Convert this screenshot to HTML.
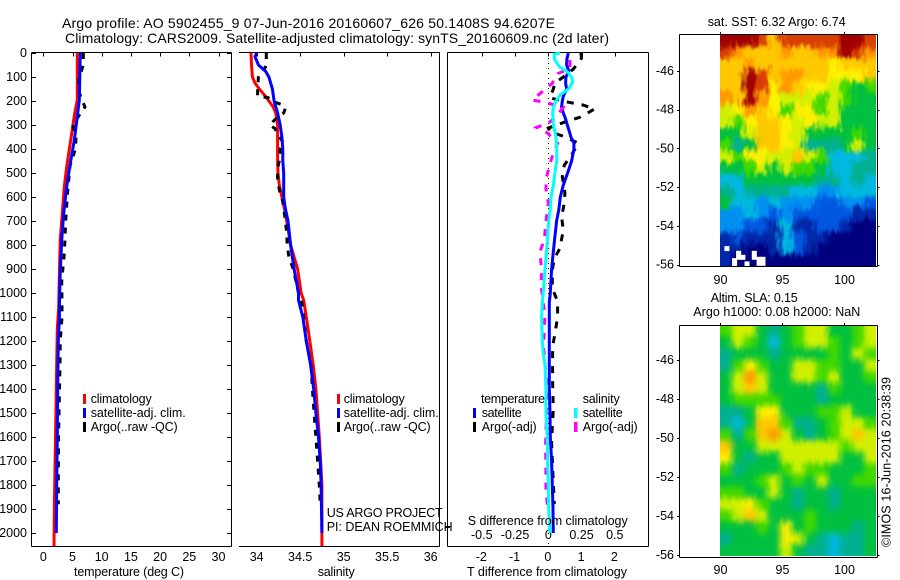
<!DOCTYPE html>
<html>
<head>
<meta charset="utf-8">
<title>Argo profile 5902455_9</title>
<style>
html,body{margin:0;padding:0;background:#fff;}
svg{display:block;}
text{font-family:"Liberation Sans",sans-serif;font-size:12.5px;fill:#000;}
.title{font-size:14px;}
</style>
</head>
<body>
<svg id="chart" xmlns="http://www.w3.org/2000/svg" width="900" height="580" viewBox="0 0 900 580">
<defs>
<filter id="softA" x="-8%" y="-8%" width="116%" height="116%" color-interpolation-filters="sRGB">
<feGaussianBlur in="SourceGraphic" stdDeviation="2.2" result="b"/>
<feTurbulence type="fractalNoise" baseFrequency="0.2 0.07" numOctaves="2" seed="3" result="n"/>
<feDisplacementMap in="b" in2="n" scale="14" xChannelSelector="R" yChannelSelector="G"/>
</filter>
<filter id="softB" x="-8%" y="-8%" width="116%" height="116%" color-interpolation-filters="sRGB">
<feGaussianBlur in="SourceGraphic" stdDeviation="3.2" result="b"/>
<feTurbulence type="fractalNoise" baseFrequency="0.25 0.1" numOctaves="1" seed="5" result="n"/>
<feDisplacementMap in="b" in2="n" scale="5" xChannelSelector="R" yChannelSelector="G"/>
</filter>
<clipPath id="clipA"><rect x="720" y="35" width="156" height="231"/></clipPath>
<clipPath id="clipB"><rect x="720" y="325" width="156" height="231"/></clipPath>
</defs>

<text class="title" x="62" y="28" textLength="493" lengthAdjust="spacing">Argo profile: AO 5902455_9 07-Jun-2016 20160607_626 50.1408S 94.6207E</text>
<text class="title" x="65" y="43" textLength="544" lengthAdjust="spacing">Climatology: CARS2009. Satellite-adjusted climatology: synTS_20160609.nc (2d later)</text>

<g id="axes-layer"></g>
<g id="series-layer"></g>
<g id="map-layer"></g>

<g>
<rect x="83" y="394" width="3" height="10" fill="#f00"/>
<text x="90.7" y="403" textLength="61" lengthAdjust="spacing">climatology</text>
<rect x="83" y="408" width="3" height="10" fill="#00f"/>
<text x="90.7" y="417" textLength="95" lengthAdjust="spacing">satellite-adj. clim.</text>
<rect x="83" y="422" width="3" height="10" fill="#000"/>
<text x="90.7" y="431" textLength="87" lengthAdjust="spacing">Argo(..raw -QC)</text>
</g>

<g>
<rect x="337" y="394" width="3" height="10" fill="#f00"/>
<text x="343.7" y="403" textLength="61" lengthAdjust="spacing">climatology</text>
<rect x="337" y="408" width="3" height="10" fill="#00f"/>
<text x="343.7" y="417" textLength="95" lengthAdjust="spacing">satellite-adj. clim.</text>
<rect x="337" y="422" width="3" height="10" fill="#000"/>
<text x="343.7" y="431" textLength="87" lengthAdjust="spacing">Argo(..raw -QC)</text>
</g>

<text x="326.7" y="517" textLength="116" lengthAdjust="spacing">US ARGO PROJECT</text>
<text x="326.7" y="531" textLength="126" lengthAdjust="spacing">PI: DEAN ROEMMICH</text>

<g>
<text x="481" y="403" textLength="64" lengthAdjust="spacing">temperature</text>
<rect x="473" y="408" width="3" height="10" fill="#00f"/>
<text x="481.7" y="417" textLength="40" lengthAdjust="spacing">satellite</text>
<rect x="473" y="422" width="3" height="10" fill="#000"/>
<text x="481.7" y="431" textLength="55" lengthAdjust="spacing">Argo(-adj)</text>
<text x="582.7" y="403" textLength="37" lengthAdjust="spacing">salinity</text>
<rect x="574" y="408" width="3.5" height="10" fill="#0ff"/>
<text x="582.7" y="417" textLength="40" lengthAdjust="spacing">satellite</text>
<rect x="574" y="422" width="3.5" height="10" fill="#f0f"/>
<text x="582.7" y="431" textLength="55" lengthAdjust="spacing">Argo(-adj)</text>
</g>

<text x="74" y="576" textLength="110" lengthAdjust="spacing">temperature (deg C)</text>
<text x="317.7" y="576" textLength="37" lengthAdjust="spacing">salinity</text>
<text x="467" y="576" textLength="160" lengthAdjust="spacing">T difference from climatology</text>
<text x="467.7" y="525" textLength="160" lengthAdjust="spacing">S difference from climatology</text>

<text x="707.7" y="26" textLength="138" lengthAdjust="spacing">sat. SST: 6.32 Argo: 6.74</text>
<text x="710.7" y="302" textLength="87" lengthAdjust="spacing">Altim. SLA: 0.15</text>
<text x="693.3" y="316" textLength="167" lengthAdjust="spacing">Argo h1000: 0.08 h2000: NaN</text>
<text transform="translate(890.5,547) rotate(-90)" x="0" y="0" textLength="170" lengthAdjust="spacing">©IMOS 16-Jun-2016 20:38:39</text>
</svg>

<script>
// ---------- profile data ----------
const depthTicks = [0,100,200,300,400,500,600,700,800,900,1000,1100,1200,1300,1400,1500,1600,1700,1800,1900,2000];
const tempTicks = [0,5,10,15,20,25,30];
const salTicks = [34,34.5,35,35.5,36];
const salTickLabels = ['34','34.5','35','35.5','36'];
const diffTTicks = [-2,-1,0,1,2];
const diffSTicks = [-0.5,-0.25,0,0.25,0.5];
const diffSTickLabels = ['-0.5','-0.25','0','0.25','0.5'];

const tempClimDepth = [0,196,251,363,474,557,668,779,918,1058,1150,1400,1650,1875,2054];
const tempClim = [5.82,5.82,5.37,4.69,4.0,3.6,3.26,2.9,2.75,2.63,2.4,2.23,2.06,1.9,1.83];
const tempSatDepth = [0,196,251,363,474,557,668,779,918,1058,1100,1200,1400,1600,1800,2000];
const tempSat = [6.34,6.17,5.89,5.3,4.52,4.0,3.5,3.15,2.9,2.75,2.75,2.57,2.46,2.4,2.29,2.23];
const tempArgoDepth = [0,50,100,150,200,225,250,300,350,400,470,600,700,800,850,950,1040,1100,1200,1300,1500,1600,1800,1880];
const tempArgo = [6.85,6.85,6.17,5.9,6.7,7.14,6.4,5.03,5.6,5.5,4.57,4.1,3.83,3.66,3.55,3.15,3.2,3.2,2.9,2.86,2.69,2.6,2.57,2.57];

const salClimDepth = [0,50,100,125,150,180,200,225,250,300,350,400,450,500,550,600,650,700,800,900,1000,1030,1100,1200,1300,1400,1500,1600,1700,1800,1900,2054];
const salClim = [33.935,33.94,33.95,33.98,34.03,34.10,34.14,34.19,34.22,34.24,34.24,34.24,34.24,34.245,34.26,34.29,34.32,34.345,34.39,34.47,34.51,34.54,34.57,34.61,34.65,34.68,34.70,34.72,34.735,34.75,34.75,34.75];
const salSatDepth = [0,15,50,75,100,150,200,250,300,350,400,450,500,550,600,650,700,800,900,1000,1030,1100,1200,1300,1400,1500,1600,1700,1800,2000];
const salSat = [34.0,33.98,34.02,34.10,34.14,34.18,34.20,34.24,34.27,34.29,34.30,34.30,34.31,34.31,34.31,34.33,34.36,34.39,34.43,34.48,34.48,34.53,34.57,34.62,34.655,34.68,34.71,34.73,34.74,34.75];
const salArgoDepth = [0,50,60,80,100,150,180,186,200,215,230,250,270,300,315,350,375,400,450,480,530,570,620,700,750,800,850,900,950,1000,1040,1100,1200,1300,1400,1500,1600,1700,1800,1880];
const salArgo = [34.11,34.11,34.10,34.04,34.02,34.01,34.01,34.13,34.17,34.29,34.33,34.31,34.23,34.15,34.21,34.26,34.31,34.27,34.26,34.24,34.24,34.26,34.30,34.33,34.345,34.35,34.37,34.42,34.45,34.48,34.52,34.54,34.57,34.625,34.64,34.66,34.68,34.70,34.72,34.73];

const diffTSatDepth = [0,25,50,75,100,125,150,180,200,225,250,275,300,325,350,375,400,450,500,550,600,650,700,800,900,1000,1040,1100,1200,1400,1500,1600,1700,1800,1900,2000];
const diffTSat = [.6,.56,.55,.62,.53,.52,.55,.45,.42,.40,.45,.52,.57,.63,.68,.77,.77,.70,.58,.45,.36,.32,.25,.17,.10,.06,.03,.03,.03,.03,.05,.06,.10,.12,.14,.15];
const diffSSatDepth = [0,5,25,40,60,75,100,120,135,150,175,200,225,250,300,350,400,450,500,550,600,650,700,800,900,1000,1040,1100,1200,1250,1300,1400,1500,1600,1700,1800,1900,2000];
const diffSSat = [.088,.045,.045,.063,.088,.138,.175,.183,.17,.15,.088,.058,.038,.033,.038,.058,.063,.063,.05,.038,.02,.015,.003,-.01,-.025,-.038,-.045,-.05,-.045,-.038,-.025,-.018,-.018,-.008,-.005,0,.003,.013];
const diffTArgoDepth = [0,22,43,68,100,125,150,187,205,217,233,268,285,313,328,349,376,425,467,515,582,626,682,738,814,856,904,980,1036,1100,1170,1224,1294,1364,1488,1558,1627,1880];
const diffTArgo = [.98,1.0,.88,.75,.45,.2,.15,.05,.6,1.05,1.4,.95,.55,0,.05,.5,.9,.7,.48,.42,.5,.48,.4,.45,.35,.18,.12,.12,.28,.28,.2,.13,.13,.13,.15,.12,.10,.18];
const diffSArgoDepth = [29,64,85,126,154,196,206,226,262,293,310,335,356,376,439,515,564,626,703,779,828,904,967,1043,1086,1224,1377,1488,1627,1752,1822,1891];
const diffSArgo = [.163,.163,.075,.03,-.03,-.12,-.025,.113,.063,0,-.088,0,.025,.07,.025,-.013,-.018,0,-.018,-.03,-.063,-.05,-.055,-.038,-.025,-.035,-.013,-.013,-.02,-.018,-.018,-.005];

// ---------- map data (palette level 0 = coldest/lowest, 13 = warmest/highest) ----------
const sstLevels = [
[13,13,13,12,10,12,12,12,12,12,13,13,12],
[12,11,10,10,10,11,10,10,11,11,13,12,11],
[10,10,11,10,10,10,10,10,10,9,10,10,10],
[10,10,13,12,10,11,11,10,10,9,9,9,10],
[10,10,13,12,9,11,10,9,9,8,7,6,7],
[11,10,13,11,9,8,8,8,7,8,7,6,6],
[8,9,11,10,9,7,9,9,7,8,6,6,6],
[8,7,9,10,10,9,8,9,8,8,6,6,6],
[6,6,8,10,10,9,8,6,6,6,6,7,6],
[7,5,6,10,10,9,8,5,5,5,6,8,6],
[8,7,9,9,8,8,10,8,7,4,4,4,5],
[6,6,7,8,6,8,7,7,6,4,4,5,5],
[4,4,6,6,6,6,6,6,5,5,4,5,4],
[5,4,5,5,5,5,4,4,3,3,4,4,4],
[6,4,4,3,4,3,3,3,2,2,3,3,2],
[3,3,4,3,2,3,2,2,2,2,2,1,1],
[3,3,2,2,1,4,1,1,2,2,1,0,0],
[1,2,1,1,1,4,2,1,1,0,0,0,0],
[1,1,0,0,1,4,2,1,0,0,0,0,0],
[1,0,0,0,0,0,0,0,0,0,0,0,0]
];
const sstMissingLon = [90.56,91.5,91.5,91.85,91.18,91.18,92.18,92.77,92.77,93.15,93.47,93.15,93.47];
const sstMissingLat = [-55.18,-55.42,-55.63,-55.63,-55.8,-56.0,-55.97,-55.42,-55.63,-55.73,-55.73,-55.94,-55.94];
const slaLevels = [
[7,8,8,6,5,6,7,8,8,6,6,7,8],
[6,8,7,6,4,6,7,8,8,7,6,7,8],
[5,6,6,6,5,6,6,6,6,7,6,8,7],
[5,7,9,7,6,6,8,8,7,7,6,6,8],
[6,8,11,8,6,6,8,8,7,8,6,6,7],
[6,8,10,8,6,6,6,6,5,7,6,6,6],
[6,7,7,7,7,6,6,6,5,6,6,6,6],
[5,5,6,9,9,6,6,6,7,7,8,6,6],
[5,4,6,10,10,7,5,5,6,7,8,8,7],
[7,5,7,10,11,8,6,5,6,7,8,10,8],
[10,6,6,8,8,8,8,8,8,8,7,8,8],
[9,6,5,6,6,8,8,8,8,8,6,6,8],
[7,5,6,6,6,7,8,7,7,6,6,6,7],
[6,6,6,7,8,6,7,6,8,6,6,7,7],
[7,7,6,6,8,6,5,6,6,5,6,6,6],
[8,8,9,7,6,6,5,6,6,5,6,6,6],
[7,8,10,8,6,6,6,7,6,6,6,6,6],
[6,6,6,7,6,9,6,7,6,6,6,5,6],
[5,6,6,6,6,9,8,6,5,4,5,5,6],
[6,6,6,6,6,8,6,5,5,4,5,5,6]
];
const mapLatTicks = [-46,-48,-50,-52,-54,-56];
const mapLonTicks = [90,95,100];

// ---------- axis functions ----------
const depthY = d => 53 + 0.24 * d;
const tempX = t => 43.3 + 5.84 * t;
const salX = s => 256.7 + 87 * (s - 34);
const diffTX = t => 548.3 + 33.25 * t;
const diffSX = s => 548.3 + 133 * s;
const lonX = lon => 720 + 12.4 * (lon - 90);
const sstLatY = lat => 71 + 19.35 * (-46 - lat);
const slaLatY = lat => 360 + 19.5 * (-46 - lat);

const NS = 'http://www.w3.org/2000/svg';
const axesLayer = document.getElementById('axes-layer');
const seriesLayer = document.getElementById('series-layer');
const mapLayer = document.getElementById('map-layer');

function drawLine(parent, x1, y1, x2, y2) {
  const el = document.createElementNS(NS, 'line');
  el.setAttribute('x1', x1); el.setAttribute('y1', y1);
  el.setAttribute('x2', x2); el.setAttribute('y2', y2);
  el.setAttribute('stroke', '#000');
  el.setAttribute('stroke-width', 1);
  el.setAttribute('shape-rendering', 'crispEdges');
  parent.appendChild(el);
  return el;
}
function drawText(parent, str, x, y, anchor) {
  const el = document.createElementNS(NS, 'text');
  el.textContent = str;
  el.setAttribute('x', x); el.setAttribute('y', y);
  el.setAttribute('text-anchor', anchor);
  parent.appendChild(el);
  return el;
}
function drawSeries(xs, ds, xFn, color, width, dash) {
  const el = document.createElementNS(NS, 'path');
  el.setAttribute('d', xs.map((v, i) => (i ? 'L' : 'M') + xFn(v).toFixed(1) + ' ' + depthY(ds[i]).toFixed(1)).join(''));
  el.setAttribute('fill', 'none');
  el.setAttribute('stroke', color);
  el.setAttribute('stroke-width', width);
  if (dash) el.setAttribute('stroke-dasharray', dash);
  seriesLayer.appendChild(el);
  return el;
}

// ---------- profile frames ----------
function spine(x1, y1, x2, y2, name) {
  const el = drawLine(axesLayer, x1, y1, x2, y2);
  
  
}
spine(31.5, 52.5, 231.5, 52.5, 'temperature-axis-top');
spine(31.5, 546.5, 231.5, 546.5, 'temperature-axis-bottom');
spine(31.5, 52.5, 31.5, 546.5, 'depth-axis-left');
spine(231.5, 52.5, 231.5, 546.5, 'temperature-axis-right');
spine(239, 52.5, 439.5, 52.5, 'salinity-axis-top');
spine(239, 546.5, 439.5, 546.5, 'salinity-axis-bottom');
spine(439.5, 52.5, 439.5, 546.5, 'salinity-axis-right');
spine(447.5, 52.5, 648.5, 52.5, 'difference-axis-top');
spine(447.5, 546.5, 648.5, 546.5, 'difference-axis-bottom');
spine(447.5, 52.5, 447.5, 546.5, 'difference-axis-left');
spine(648.5, 52.5, 648.5, 546.5, 'difference-axis-right');
spine(445, 527.5, 450, 527.5, 'difference-axis-stray-tick');

depthTicks.forEach(d => {
  const y = Math.round(depthY(d)) + 0.5;
  const left = drawLine(axesLayer, 31.5, y, 36, y);
  
  
  const right = drawLine(axesLayer, 227, y, 231.5, y);
  
  
  const label = drawText(axesLayer, String(d), 27, depthY(d) + 4, 'end');
  
  
});
tempTicks.forEach(t => {
  const x = Math.round(tempX(t)) + 0.5;
  const tick = drawLine(axesLayer, x, 52.5, x, 56.5);
  
  
  const label = drawText(axesLayer, String(t), tempX(t), 561, 'middle');
  
  
});
salTicks.forEach((s, i) => {
  const x = Math.round(salX(s)) + 0.5;
  const tick = drawLine(axesLayer, x, 52.5, x, 56.5);
  
  
  const label = drawText(axesLayer, salTickLabels[i], salX(s), 561, 'middle');
  
  
});
diffTTicks.forEach(t => {
  const x = Math.round(diffTX(t)) + 0.5;
  const tick = drawLine(axesLayer, x, 52.5, x, 56.5);
  
  
  const label = drawText(axesLayer, String(t), diffTX(t) - 0.5, 561, 'middle');
  
  
});
diffSTicks.forEach((s, i) => {
  const label = drawText(axesLayer, diffSTickLabels[i], diffSX(s), 539, 'middle');
  
  
});

// ---------- profile series ----------
const dashArgo = '6 7';
const dashDiff = '7 8';
let s;
s = drawSeries(tempClim, tempClimDepth, tempX, '#f00', 3);


s = drawSeries(tempArgo, tempArgoDepth, tempX, '#000', 3, dashArgo);


s = drawSeries(tempSat, tempSatDepth, tempX, '#00f', 3);


s = drawSeries(salClim, salClimDepth, salX, '#f00', 3);


s = drawSeries(salArgo, salArgoDepth, salX, '#000', 3, dashArgo);


s = drawSeries(salSat, salSatDepth, salX, '#00f', 3);



const zeroLine = drawLine(seriesLayer, 548.5, 53, 548.5, 546);
zeroLine.setAttribute('stroke-dasharray', '1 4');



s = drawSeries(diffTArgo, diffTArgoDepth, diffTX, '#000', 3, dashDiff);


s = drawSeries(diffTSat, diffTSatDepth, diffTX, '#00f', 3);


s = drawSeries(diffSArgo, diffSArgoDepth, diffSX, '#f0f', 3, dashDiff);


s = drawSeries(diffSSat, diffSSatDepth, diffSX, '#0ff', 3);



// ---------- maps ----------
const palette = ['#00007f','#0028a8','#0058e0','#0090f0','#00b8e0','#00b090','#00c040','#40d800','#d0f000','#fff000','#ffc800','#ff9800','#d84000','#a00000'];
const lonStep = 12 / 12.4;

function drawMap(levels, latY, topLat, clipId, filterId, bleed, cellName) {
  const clip = document.createElementNS(NS, 'g');
  clip.setAttribute('clip-path', 'url(#' + clipId + ')');
  const soft = document.createElementNS(NS, 'g');
  soft.setAttribute('filter', 'url(#' + filterId + ')');
  clip.appendChild(soft);
  mapLayer.appendChild(clip);
  const latStep = (latY(topLat - 1) - latY(topLat));
  const rowDeg = 231 / levels.length / latStep;
  levels.forEach((row, r) => {
    row.forEach((v, c) => {
      const x0 = lonX(90 + c * lonStep);
      const x1 = lonX(90 + (c + 1) * lonStep);
      const y0 = latY(topLat - r * rowDeg);
      const y1 = latY(topLat - (r + 1) * rowDeg);
      const cell = document.createElementNS(NS, 'rect');
      const lx = c === 0 ? x0 - bleed : x0;
      const rx = c === row.length - 1 ? x1 + bleed : x1 + 0.5;
      const ty = r === 0 ? y0 - bleed : y0;
      const by = r === levels.length - 1 ? y1 + bleed : y1 + 0.5;
      cell.setAttribute('x', lx.toFixed(2));
      cell.setAttribute('y', ty.toFixed(2));
      cell.setAttribute('width', (rx - lx).toFixed(2));
      cell.setAttribute('height', (by - ty).toFixed(2));
      cell.setAttribute('fill', palette[v]);
      
      
      soft.appendChild(cell);
    });
  });
}
drawMap(sstLevels, sstLatY, -44.14, 'clipA', 'softA', 16, 'sst-map-cell');
drawMap(slaLevels, slaLatY, -44.2, 'clipB', 'softB', 16, 'sla-map-cell');

sstMissingLon.forEach((lon, i) => {
  const m = document.createElementNS(NS, 'rect');
  m.setAttribute('x', (lonX(lon) - 2.5).toFixed(1));
  m.setAttribute('y', (sstLatY(sstMissingLat[i]) - 2.5).toFixed(1));
  m.setAttribute('width', 5);
  m.setAttribute('height', 5);
  m.setAttribute('fill', '#fff');
  
  
  mapLayer.appendChild(m);
});

function drawMapFrame(top, bottom, latY, labelBase, prefix) {
  const frames = [[679.5, top, 877.5, top], [679.5, bottom, 877.5, bottom], [679.5, top, 679.5, bottom], [877.5, top, 877.5, bottom]];
  frames.forEach(f => {
    const edge = drawLine(mapLayer, f[0], f[1], f[2], f[3]);
    
    
  });
  mapLatTicks.forEach(lat => {
    const y = Math.round(latY(lat)) + 0.5;
    const lt = drawLine(mapLayer, 677, y, 679.5, y);
    
    
    const rt = drawLine(mapLayer, 877.5, y, 879.5, y);
    
    
    const lb = drawText(mapLayer, String(lat), 674, latY(lat) + 4, 'end');
    
    
  });
  mapLonTicks.forEach(lon => {
    const x = Math.round(lonX(lon)) + 0.5;
    const tk = drawLine(mapLayer, x, top - 2.5, x, top);
    
    
    const lb = drawText(mapLayer, String(lon), lonX(lon) + 0.5, labelBase, 'middle');
    
    
  });
}
drawMapFrame(34.5, 266.5, sstLatY, 284, 'sst');
drawMapFrame(325.5, 557.5, slaLatY, 574, 'sla');
</script>
</body>
</html>
